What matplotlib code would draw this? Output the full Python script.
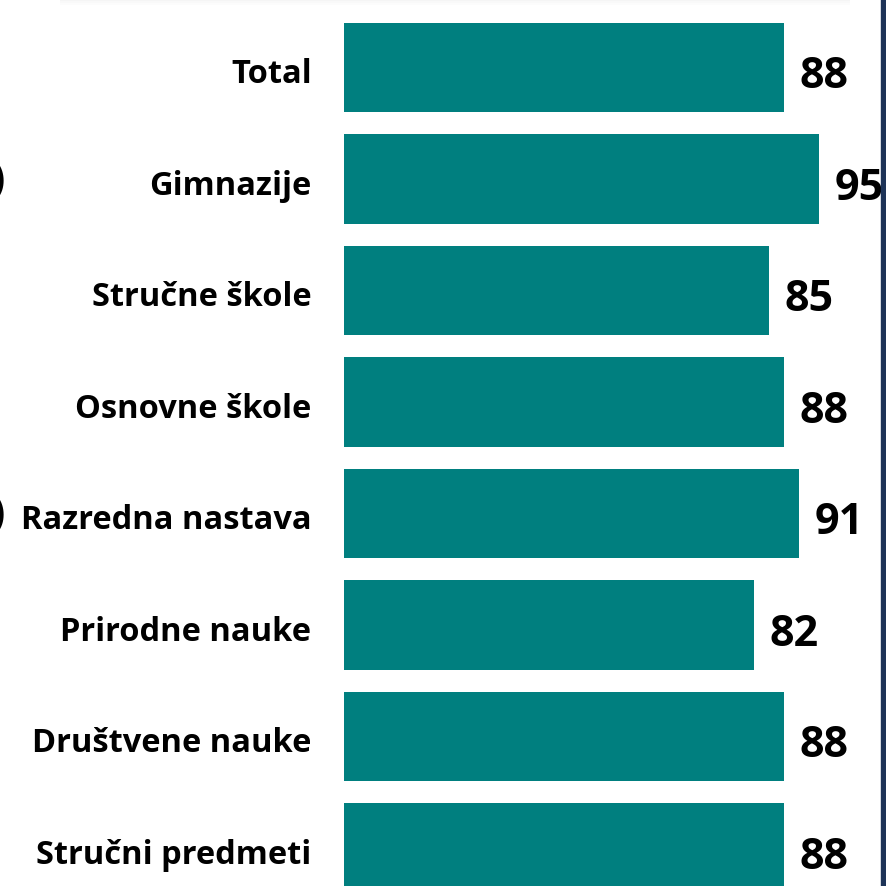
import matplotlib
matplotlib.use("Agg")
import matplotlib.pyplot as plt
from matplotlib.patches import Rectangle

categories = ["Total", "Gimnazije", "Stručne škole", "Osnovne škole",
              "Razredna nastava", "Prirodne nauke", "Društvene nauke", "Stručni predmeti"]
values = [88, 95, 85, 88, 91, 82, 88, 88]

W, H = 886, 887
fig = plt.figure(figsize=(W / 100, H / 100), dpi=100)
plt.rcParams['font.family'] = ['Open Sans', 'DejaVu Sans']

ax = fig.add_axes([344 / W, 0, (880 - 344) / W, 1])
ypos = list(range(len(categories)))
ax.barh(ypos, values, height=0.8, color="#007F7F")
ax.set_xlim(0, (880 - 344) / 5)
top = -68.5 / 111.5
bot = (887 - 68.5) / 111.5
ax.set_ylim(bot, top)
ax.axis("off")

for y, v, c in zip(ypos, values, categories):
    ax.text(v + 3.1, y + 0.03, f"{v}", ha="left", va="center_baseline", fontsize=31,
            fontweight="bold", color="black")
    ax.text(-6.5, y + 0.02, c, ha="right", va="center_baseline", fontsize=23.5,
            fontweight="bold", color="black")

# cropped-off characters at left edge
fig.text(0.006, 1 - 180 / H, ")", ha="right", va="center", fontsize=28,
         fontweight="bold")
fig.text(0.006, 1 - 515 / H, ")", ha="right", va="center", fontsize=28,
         fontweight="bold")

# right border line
fig.patches.append(Rectangle((881 / W, 0), 6 / W, 1, transform=fig.transFigure,
                             color="#1D3357", zorder=10))
# faint top shadow
for i, a in enumerate([0.04, 0.025, 0.012]):
    fig.patches.append(Rectangle((60 / W, 1 - (i + 1) * 2 / H), 790 / W, 2 / H,
                                 transform=fig.transFigure, color="black",
                                 alpha=a, lw=0))

fig.savefig("out.png", dpi=100)
